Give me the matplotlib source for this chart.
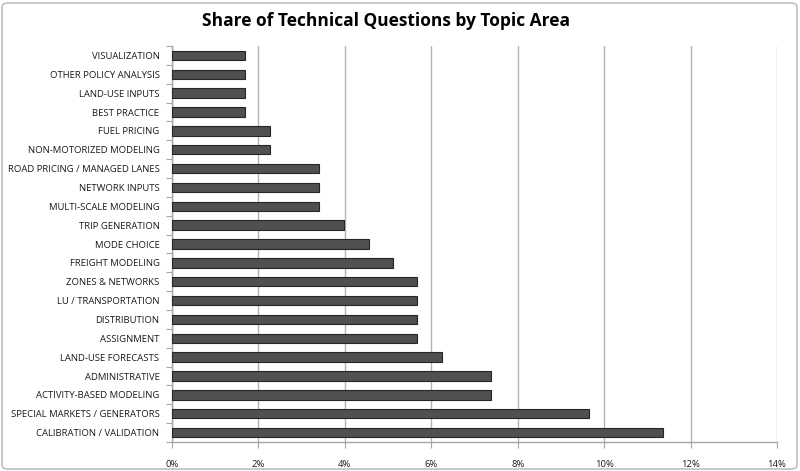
import matplotlib
matplotlib.use("Agg")
import matplotlib.pyplot as plt
from matplotlib.patches import FancyBboxPatch
from matplotlib.ticker import FixedLocator, PercentFormatter

categories = [
    "VISUALIZATION", "OTHER POLICY ANALYSIS", "LAND-USE INPUTS", "BEST PRACTICE",
    "FUEL PRICING", "NON-MOTORIZED MODELING", "ROAD PRICING / MANAGED LANES",
    "NETWORK INPUTS", "MULTI-SCALE MODELING", "TRIP GENERATION", "MODE CHOICE",
    "FREIGHT MODELING", "ZONES & NETWORKS", "LU / TRANSPORTATION", "DISTRIBUTION",
    "ASSIGNMENT", "LAND-USE FORECASTS", "ADMINISTRATIVE", "ACTIVITY-BASED MODELING",
    "SPECIAL MARKETS / GENERATORS", "CALIBRATION / VALIDATION",
]
shares = [1.70, 1.70, 1.70, 1.70, 2.27, 2.27, 3.41, 3.41, 3.41, 3.98, 4.55,
          5.11, 5.68, 5.68, 5.68, 5.68, 6.25, 7.39, 7.39, 9.66, 11.36]
x_ticks = [0, 2, 4, 6, 8, 10, 12, 14]

plt.rcParams['font.family'] = ['Open Sans', 'DejaVu Sans']

fig = plt.figure(figsize=(8, 4.71), dpi=100)
ax = fig.add_axes([172/800, 1-442/471, (777-172)/800, (442-46)/471])

n = len(categories)
ypos = list(range(n - 1, -1, -1))
ax.barh(ypos, shares, height=0.5, color="#505050", edgecolor="#262626", linewidth=0.8, zorder=3)

ax.set_xlim(0, 14)
ax.set_ylim(-0.5, n - 0.5)
ax.xaxis.set_major_locator(FixedLocator(x_ticks))
ax.xaxis.set_major_formatter(PercentFormatter(decimals=0))
ax.set_yticks(ypos)
ax.set_yticklabels(categories)
ax.set_yticks([i - 0.5 for i in range(n + 1)], minor=True)
ax.tick_params(axis='y', which='major', length=0, pad=9, labelsize=6.8, colors="#1a1a1a")
ax.tick_params(axis='y', which='minor', length=4, color="#a6a6a6", width=0.8)
ax.tick_params(axis='x', which='major', length=4, color="#a6a6a6", width=0.8,
               labelsize=6.8, pad=9)
for lbl in ax.get_xticklabels():
    lbl.set_color("#1a1a1a")

ax.grid(axis='x', color="#b3b3b3", linewidth=1.0, zorder=0)
ax.spines['top'].set_visible(False)
ax.spines['right'].set_visible(False)
for side in ['left', 'bottom']:
    ax.spines[side].set_color("#a6a6a6")
    ax.spines[side].set_linewidth(1.0)

fig.text(386/800, 1 - 21/471, "Share of Technical Questions by Topic Area",
         ha='center', va='center', fontsize=12.5, fontweight='bold', color="#000000")

border = FancyBboxPatch((2/800, 2/471), 795/800, 466/471, boxstyle="round,pad=0,rounding_size=0.008",
                        transform=fig.transFigure, fill=False, edgecolor="#bfbfbf", linewidth=1.2)
fig.patches.append(border)

fig.savefig("out.png", dpi=100)
